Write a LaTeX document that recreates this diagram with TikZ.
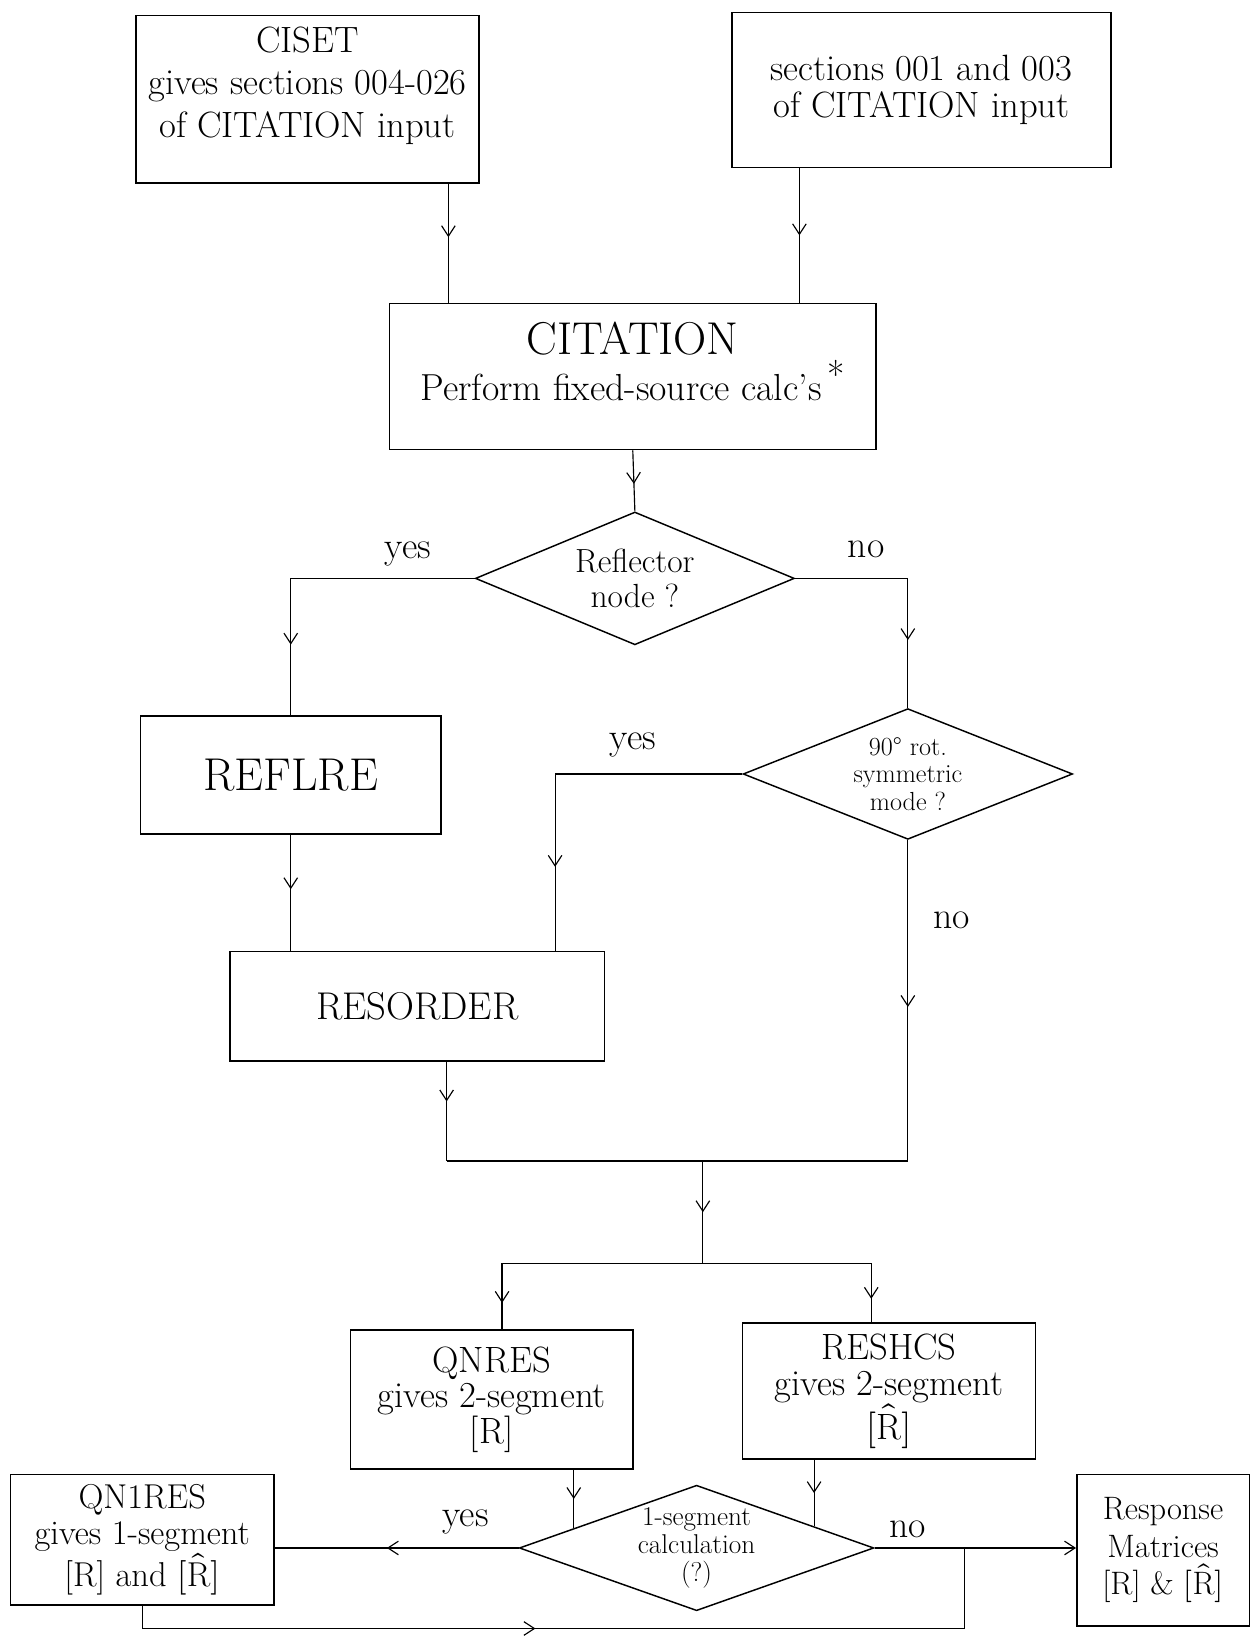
\documentclass[tikz,border=0pt]{standalone}
\usepackage{fontspec}
\usepackage{unicode-math}
\usetikzlibrary{shapes.geometric,calc,arrows.meta,decorations.markings}

\newcommand{\Rhat}{$[\hat{\mathrm{R}}]$}

\begin{document}
\begin{tikzpicture}[x=1pt,y=-1pt,
    font=\fontsize{36}{40}\selectfont,
    box/.style={rectangle,draw,line width=1.4pt,align=center,inner sep=0pt},
    test/.style={diamond,draw,line width=1.4pt,align=center,inner sep=-10pt},
    line/.style={line width=1.1pt},
    tip/.style={-{Straight Barb[length=10pt,width=13pt]}},
    midarrow/.style={line,postaction={decorate},
      decoration={markings,mark=at position #1 with {\arrow{Straight Barb[length=10pt,width=13pt]}}}},
    midarrow/.default=0.5]
\useasboundingbox (0,0) rectangle (1204,1568);

% input boxes
\node[box,minimum width=328pt,minimum height=160pt,font=\fontsize{35}{41}\selectfont] (ciset) at (294,95)
  {CISET\\ gives sections 004-026\\ of CITATION input\\[-8pt]};
\node[box,minimum width=362pt,minimum height=148pt,font=\fontsize{35}{36}\selectfont] (secin) at (881,86)
  {sections 001 and 003\\ of CITATION input};
\node[box,minimum width=465pt,minimum height=140pt] (citation) at (605,360)
  {{\fontsize{44}{48}\selectfont CITATION}\\[4pt] {\fontsize{36}{40}\selectfont Perform fixed-source calc's\,\raisebox{0.7ex}{*}}\\[-10pt]};

% decisions
\node[test,minimum width=305pt,minimum height=127pt,aspect=2.4,font=\fontsize{32}{33}\selectfont] (refl) at (607,553)
  {Reflector\\ node ?};
\node[test,minimum width=315pt,minimum height=125pt,aspect=2.5,font=\fontsize{25}{26}\selectfont] (sym) at (868,740)
  {90° rot.\\ symmetric\\ mode ?};

\node[box,minimum width=287pt,minimum height=113pt,font=\fontsize{44}{48}\selectfont] (reflre) at (278,741) {REFLRE};
\node[box,minimum width=358pt,minimum height=105pt,font=\fontsize{37}{42}\selectfont] (resorder) at (399,962) {RESORDER};

% response matrix boxes
\node[box,minimum width=270pt,minimum height=133pt,font=\fontsize{35}{34}\selectfont] (qnres) at (470,1338)
  {QNRES\\ gives 2-segment\\ {[R]}};
\node[box,minimum width=280pt,minimum height=130pt,font=\fontsize{35}{34}\selectfont] (reshcs) at (850,1330)
  {RESHCS\\ gives 2-segment\\ \Rhat};
\node[test,minimum width=339pt,minimum height=120pt,aspect=3,font=\fontsize{26}{27}\selectfont] (calc) at (666,1480)
  {1-segment\\ calculation\\ (?)};
\node[box,minimum width=252pt,minimum height=125pt,font=\fontsize{33}{35}\selectfont] (qn1res) at (136,1472)
  {QN1RES\\ gives 1-segment\\ {[R]} and \Rhat};
\node[box,minimum width=165pt,minimum height=145pt,font=\fontsize{31}{36}\selectfont] (resp) at (1112,1482)
  {Response\\ Matrices\\ {[R]} \& \Rhat};

% branch labels
\node (yes1) at (390,530) {yes};
\node (no1) at (828,525) {no};
\node (yes2) at (605,712) {yes};
\node (no2) at (910,880) {no};
\node (yes3) at (445,1455) {yes};
\node (no3) at (868,1462) {no};

% junctions
\coordinate (cisetout) at ($(ciset.south east)+(-30,0)$);
\coordinate (secout) at ($(secin.south west)+(65,0)$);
\coordinate (resin) at ($(resorder.north east)+(-48,0)$);
\coordinate (resout) at ($(resorder.south)+(28,0)$);
\coordinate (mrg) at (672,1110);
\coordinate (spl) at (672,1208);
\coordinate (qin) at ($(qnres.north)+(10,0)$);
\coordinate (rin) at ($(reshcs.north)+(-17,0)$);
\coordinate (cq) at ($(calc.north)!0.69!(calc.west)$);
\coordinate (cr) at ($(calc.north)!0.66!(calc.east)$);
\coordinate (back) at ($(calc.east)!0.445!(resp.west)$);
\coordinate (loopy) at (0,1557);

\draw[midarrow=0.45] (cisetout) -- (cisetout |- citation.north);
\draw[midarrow] (secout) -- (secout |- citation.north);
\draw[midarrow=0.55] (citation.south) -- (refl.north);
\draw[midarrow=0.78] (refl.west) -| (reflre.north);
\draw[midarrow=0.72] (refl.east) -| (sym.north);
\draw[midarrow=0.47] (reflre.south) -- (reflre.south |- resorder.north);
\draw[midarrow=0.77] (sym.west) -| (resin);
\draw[midarrow=0.4] (resout) -- (resout |- mrg);
\draw[line] (resout |- mrg) -- (sym.south |- mrg);
\draw[midarrow=0.52] (sym.south) -- (sym.south |- mrg);
\draw[midarrow] (mrg) -- (spl);
\draw[line] (qin |- spl) -- (rin |- spl);
\draw[midarrow=0.6] (qin |- spl) -- (qin);
\draw[midarrow=0.6] (rin |- spl) -- (rin);
\draw[midarrow] (cq |- qnres.south) -- (cq);
\draw[midarrow] (cr |- reshcs.south) -- (cr);
\draw[midarrow=0.54] (calc.west) -- (calc.west -| qn1res.east);
\draw[line,tip] (calc.east) -- (calc.east -| resp.west);
\draw[midarrow=0.45] (qn1res.south) |- (back |- loopy) -- (back);
\end{tikzpicture}
\end{document}
